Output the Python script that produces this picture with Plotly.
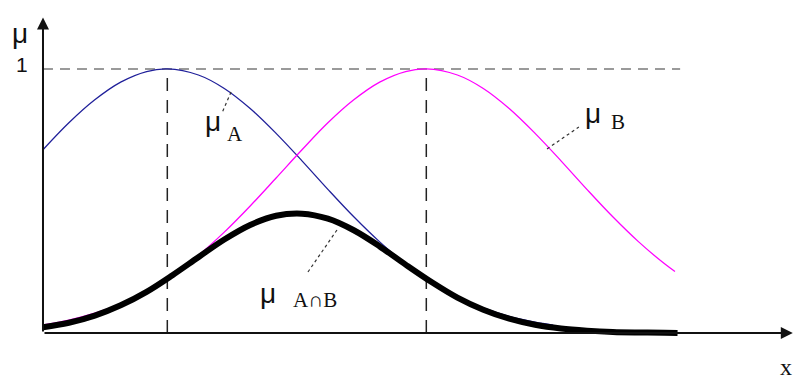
import plotly.graph_objects as go

# sample positions along the x axis and membership degrees
x_a = [0, 1, 2, 3, 4, 4.8, 6, 7, 8, 9, 10, 11, 12, 13, 14, 15, 16, 17, 18, 19, 19.7]
mu_a = [0.694, 0.796, 0.883, 0.950, 0.990, 1.0, 0.977, 0.926, 0.850, 0.756, 0.652,
        0.544, 0.440, 0.345, 0.262, 0.193, 0.137, 0.095, 0.063, 0.041, 0.030]

x_b = [0, 1, 2, 3, 4, 5, 6, 7, 8, 9, 10, 11, 12, 13, 14, 14.8, 16, 17, 18, 19, 20,
       21, 22, 23, 24, 24.4]
mu_b = [0.031, 0.049, 0.075, 0.110, 0.158, 0.219, 0.294, 0.382, 0.481, 0.587, 0.694,
        0.796, 0.883, 0.950, 0.990, 1.0, 0.977, 0.926, 0.850, 0.756, 0.652,
        0.544, 0.440, 0.345, 0.262, 0.233]

x_ab = [0, 1, 2, 3, 4, 5, 6, 7, 8, 9, 10, 11, 12, 13, 14, 15, 16, 17, 18, 19, 20,
        21, 22, 23, 24, 24.5]
mu_ab = [0.022, 0.039, 0.066, 0.105, 0.156, 0.219, 0.287, 0.354, 0.409, 0.444, 0.452,
         0.433, 0.389, 0.328, 0.259, 0.193, 0.134, 0.088, 0.054, 0.031, 0.017,
         0.009, 0.004, 0.002, 0.001, 0.0]

peaks = [4.8, 14.8]

SANS = "Liberation Sans, Arial, sans-serif"
SERIF = "Liberation Serif, Times New Roman, serif"

fig = go.Figure()
fig.add_trace(go.Scatter(x=x_a, y=mu_a, mode="lines",
                         line=dict(color="#20209a", width=1.3, shape="spline")))
fig.add_trace(go.Scatter(x=x_b, y=mu_b, mode="lines",
                         line=dict(color="#ff00ff", width=1.3, shape="spline")))
fig.add_trace(go.Scatter(x=x_ab, y=mu_ab, mode="lines",
                         line=dict(color="#000000", width=6, shape="spline")))

# dashed guides
fig.add_shape(type="line", x0=0, x1=24.6, y0=1, y1=1,
              line=dict(color="#7a7a7a", width=1.5, dash="10px,7px"), layer="below")
for p in peaks:
    fig.add_shape(type="line", x0=p, x1=p, y0=0, y1=1,
                  line=dict(color="#222222", width=1.5, dash="13px,9px"), layer="below")

# axes with arrows
arrow = dict(showarrow=True, text="", axref="x", ayref="y", arrowhead=2,
             arrowsize=1.2, arrowwidth=2, arrowcolor="#111111")
fig.add_annotation(x=28.95, y=0, ax=0, ay=0, **arrow)
fig.add_annotation(x=0, y=1.195, ax=0, ay=0, **arrow)

# leader lines for labels
leaders = [((7.26, 0.913), (6.91, 0.833)),
           ((19.46, 0.697), (20.69, 0.780)),
           ((11.35, 0.390), (10.23, 0.231))]
for (x0, y0), (x1, y1) in leaders:
    fig.add_shape(type="line", x0=x0, y0=y0, x1=x1, y1=y1,
                  line=dict(color="#333333", width=1.2, dash="dot"))

labels = [
    ("μ", -0.89, 1.135, SANS, 28),
    ("1", -0.81, 1.015, SANS, 21),
    ("μ", 6.55, 0.80, SANS, 28),
    ("A", 7.4, 0.755, SERIF, 21),
    ("μ", 21.25, 0.83, SANS, 28),
    ("B", 22.2, 0.80, SERIF, 21),
    ("μ", 8.7, 0.15, SANS, 28),
    ("A∩B", 10.5, 0.125, SERIF, 21),
    ("x", 28.7, -0.13, SERIF, 24),
]
for txt, x, y, fam, size in labels:
    fig.add_annotation(x=x, y=y, text=txt, showarrow=False,
                       font=dict(family=fam, size=size, color="#111111"))

fig.update_xaxes(range=[-1.66, 29.035], visible=False, showgrid=False, zeroline=False)
fig.update_yaxes(range=[-0.178, 1.261], visible=False, showgrid=False, zeroline=False)
fig.update_layout(
    width=795, height=380,
    margin=dict(l=0, r=0, t=0, b=0),
    paper_bgcolor="white", plot_bgcolor="white",
    showlegend=False,
)

fig.write_html("out.html", config={"displayModeBar": False},
               post_script="document.body.style.margin='0';")
